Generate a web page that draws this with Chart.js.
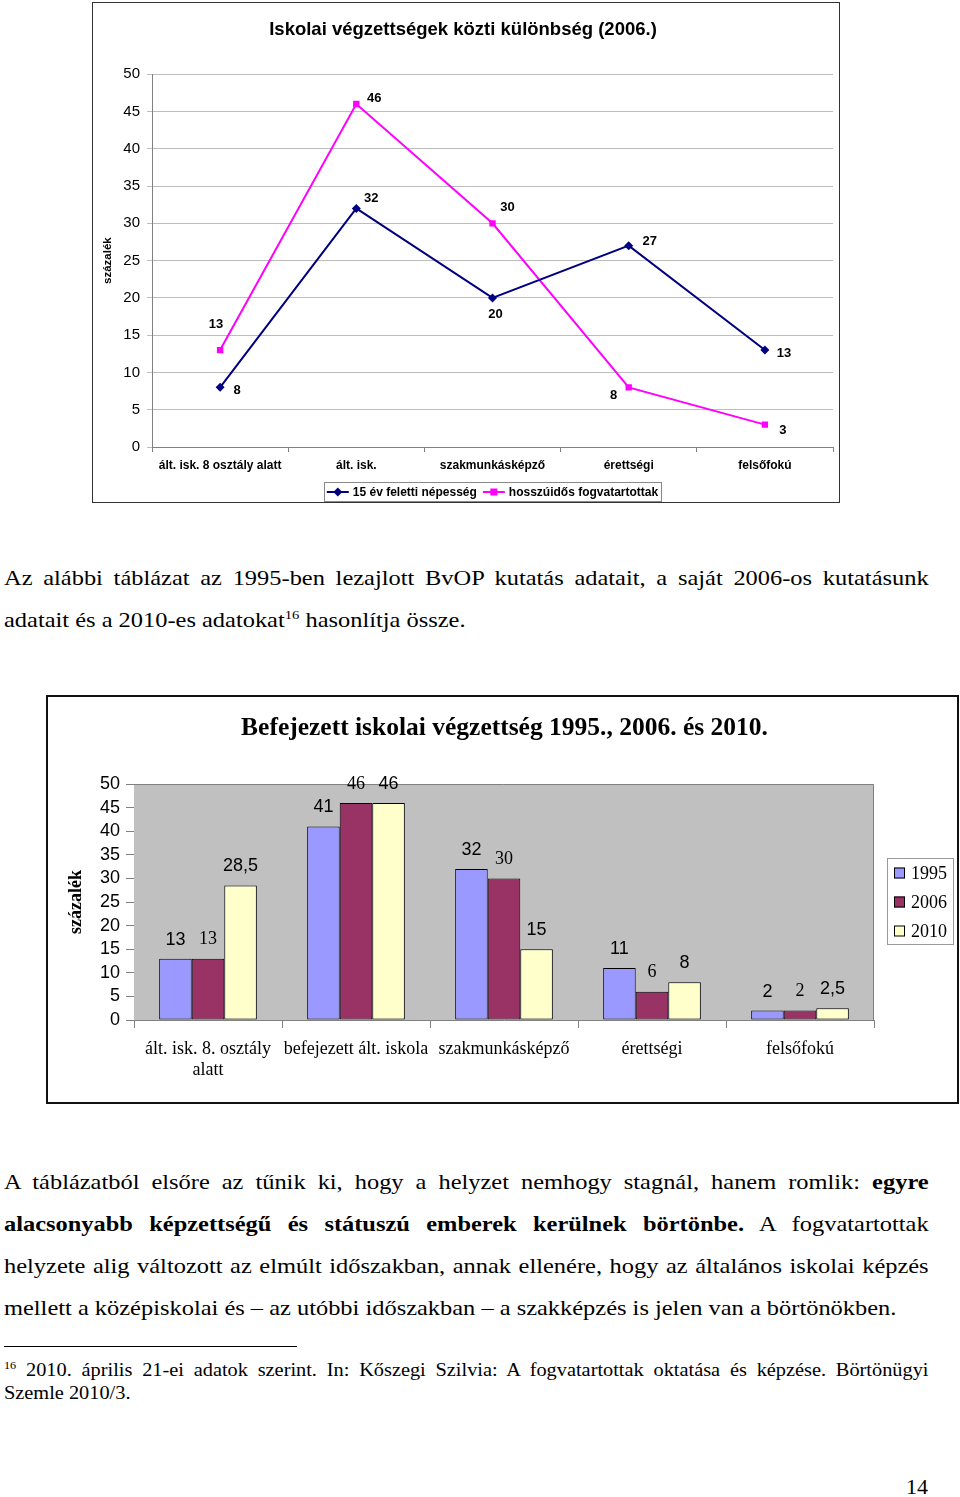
<!DOCTYPE html>
<html>
<head>
<meta charset="UTF-8">
<title></title>
<style type="text/css">
	body{ margin:0; background:#fff; width:960px; height:1497px; position:relative; overflow:hidden; }
	.box{ position:absolute; box-sizing:border-box; background:#fff; }
	.box canvas{ display:block; }
	.ln{ position:absolute; left:4px; width:833px; height:42px; line-height:42px; font-family:"Liberation Serif", serif; font-size:22px; color:#000; white-space:nowrap; transform:scaleX(1.11); transform-origin:0 0; }
	.j{ text-align:justify; text-align-last:justify; white-space:normal; }
	.fn{ font-size:19px; height:24px; line-height:24px; width:864px; transform:scaleX(1.07); }
	.pg{ transform:none; width:40px; }
	sup{ font-size:0.6em; line-height:0; vertical-align:0.6em; }
</style>
</head>
<body>
<div class="box" id="box1" style="left:92px;top:2px;width:748px;height:501px;border:1px solid #333;">
	<canvas id="lineChart" width="746" height="499"></canvas>
</div>

<div class="ln j" style="top:557px;">Az alábbi táblázat az 1995-ben lezajlott BvOP kutatás adatait, a saját 2006-os kutatásunk</div>
<div class="ln" style="top:599px;">adatait és a 2010-es adatokat<sup>16</sup> hasonlítja össze.</div>

<div class="box" id="box2" style="left:46px;top:695px;width:913px;height:409px;border:2px solid #111;">
	<canvas id="barChart" width="909" height="405"></canvas>
</div>

<div class="ln j" style="top:1161px;">A táblázatból elsőre az tűnik ki, hogy a helyzet nemhogy stagnál, hanem romlik: <b>egyre</b></div>
<div class="ln j" style="top:1203px;"><b>alacsonyabb képzettségű és státuszú emberek kerülnek börtönbe.</b> A fogvatartottak</div>
<div class="ln j" style="top:1245px;">helyzete alig változott az elmúlt időszakban, annak ellenére, hogy az általános iskolai képzés</div>
<div class="ln" style="top:1287px;">mellett a középiskolai és – az utóbbi időszakban – a szakképzés is jelen van a börtönökben.</div>

<div style="position:absolute;left:4px;top:1346px;width:293px;height:1px;background:#000;"></div>
<div class="ln j fn" style="top:1358px;"><sup>16</sup> 2010. április 21-ei adatok szerint. In: Kőszegi Szilvia: A fogvatartottak oktatása és képzése. Börtönügyi</div>
<div class="ln fn" style="top:1381px;">Szemle 2010/3.</div>

<div class="ln pg" style="top:1466px;left:906px;">14</div>

<script src="https://cdn.jsdelivr.net/npm/chart.js@4.4.0/dist/chart.umd.min.js"></script>
<script>
	// első ábra: vonaldiagram
	var lineTitle = 'Iskolai végzettségek közti különbség (2006.)';
	var lineCats = ['ált. isk. 8 osztály alatt', 'ált. isk.', 'szakmunkásképző', 'érettségi', 'felsőfokú'];
	var lineNames = ['15 év feletti népesség', 'hosszúidős fogvatartottak'];
	var nepesseg = [8, 32, 20, 27, 13];
	var fogvatartottak = [13, 46, 30, 8, 3];

	// második ábra: oszlopdiagram
	var barTitle = 'Befejezett iskolai végzettség 1995., 2006. és 2010.';
	var barCats = [['ált. isk. 8. osztály', 'alatt'], 'befejezett ált. iskola', 'szakmunkásképző', 'érettségi', 'felsőfokú'];
	var barYears = ['1995', '2006', '2010'];
	var ev1995 = [13, 41, 32, 11, 2];
	var ev2006 = [13, 46, 30, 6, 2];
	var ev2010 = [28.5, 46, 15, 8, 2.5];

	var SANS = '"Liberation Sans", Arial, sans-serif';
	var SERIF = '"Liberation Serif", "Times New Roman", serif';

	function fmt(v){
		return String(v).replace('.', ',');
	}

	// a vonaldiagram értékcímkéi (eltolás pontonként)
	var lineLabelShift = [
		[[17, 3], [15, -10], [3, 17], [21, -4], [19, 3]],
		[[-4, -26], [18, -6], [15, -16], [-15, 8], [18, 6]]
	];

	var lineLabels = {
		id: 'lineLabels',
		afterDatasetsDraw: function(chart){
			var ctx = chart.ctx;
			ctx.save();
			ctx.font = 'bold 13px ' + SANS;
			ctx.fillStyle = '#000';
			ctx.textAlign = 'center';
			ctx.textBaseline = 'middle';
			chart.data.datasets.forEach(function(ds, di){
				chart.getDatasetMeta(di).data.forEach(function(pt, i){
					var s = lineLabelShift[di][i];
					ctx.fillText(fmt(ds.data[i]), pt.x + s[0], pt.y + s[1]);
				});
			});
			ctx.restore();
		}
	};

	function drawMarker(ctx, style, x, y, color){
		ctx.fillStyle = color;
		ctx.beginPath();
		if(style === 'rectRot'){
			ctx.moveTo(x, y - 4.5); ctx.lineTo(x + 4.5, y); ctx.lineTo(x, y + 4.5); ctx.lineTo(x - 4.5, y);
		} else {
			ctx.rect(x - 3.5, y - 3.5, 7, 7);
		}
		ctx.closePath();
		ctx.fill();
	}

	var lineLegend = {
		id: 'lineLegend',
		afterDraw: function(chart){
			var ctx = chart.ctx, a = chart.chartArea;
			ctx.save();
			ctx.font = 'bold 12px ' + SANS;
			var items = chart.data.datasets.map(function(ds){
				return {ds: ds, w: 22 + 4 + ctx.measureText(ds.label).width};
			});
			var total = items.reduce(function(s, it){ return s + it.w; }, 0) + 6 * (items.length - 1) + 6;
			var x = (a.left + a.right) / 2 - total / 2;
			var y = a.bottom + 45;
			ctx.strokeStyle = '#888';
			ctx.lineWidth = 1;
			ctx.strokeRect(Math.round(x) + 0.5, y - 9.5, Math.round(total), 19);
			x += 3;
			ctx.textBaseline = 'middle';
			items.forEach(function(it){
				ctx.strokeStyle = it.ds.borderColor;
				ctx.lineWidth = 2;
				ctx.beginPath();
				ctx.moveTo(x, y); ctx.lineTo(x + 22, y);
				ctx.stroke();
				drawMarker(ctx, it.ds.pointStyle, x + 11, y, it.ds.borderColor);
				ctx.fillStyle = '#000';
				ctx.fillText(it.ds.label, x + 26, y + 0.5);
				x += it.w + 6;
			});
			ctx.restore();
		}
	};

	new Chart(document.getElementById('lineChart').getContext('2d'), {
		type: 'line',
		data: {
			labels: lineCats,
			datasets: [
				{
					label: lineNames[0],
					data: nepesseg,
					borderColor: '#000080',
					backgroundColor: '#000080',
					borderWidth: 2,
					pointStyle: 'rectRot',
					pointRadius: 4.5,
					pointBorderWidth: 0,
					tension: 0
				},
				{
					label: lineNames[1],
					data: fogvatartottak,
					borderColor: '#ff00ff',
					backgroundColor: '#ff00ff',
					borderWidth: 2,
					pointStyle: 'rect',
					pointRadius: 4.5,
					pointBorderWidth: 0,
					tension: 0
				}
			]
		},
		options: {
			responsive: false,
			animation: false,
			layout: { padding: { top: 0, left: 0, right: 6, bottom: 25 } },
			plugins: {
				legend: { display: false },
				tooltip: { enabled: false },
				title: {
					display: true,
					text: lineTitle,
					color: '#000',
					font: { family: SANS, size: 18.5, weight: 'bold' },
					padding: { top: 16, bottom: 33 }
				}
			},
			scales: {
				x: {
					offset: true,
					afterFit: function(s){ s.height = 30; },
					grid: { offset: true, drawOnChartArea: false, tickLength: 5, color: '#808080' },
					border: { color: '#808080' },
					ticks: { color: '#000', padding: 6, maxRotation: 0, autoSkip: false, font: { family: SANS, size: 12, weight: 'bold' } }
				},
				y: {
					min: 0, max: 50,
					afterFit: function(s){ s.width = 59; },
					grid: { color: '#bdbdbd', tickLength: 5 },
					border: { color: '#808080' },
					ticks: { stepSize: 5, autoSkip: false, color: '#000', padding: 7, font: { family: SANS, size: 15 } },
					title: { display: true, text: 'százalék', color: '#000', padding: { top: 8, bottom: 0 }, font: { family: SANS, size: 11.5, weight: 'bold' } }
				}
			}
		},
		plugins: [lineLabels, lineLegend]
	});

	// oszlopdiagram segédrajzolók
	var barLabelFonts = [SANS, SERIF, SANS];

	var plotBg = {
		id: 'plotBg',
		beforeDatasetsDraw: function(chart){
			var ctx = chart.ctx, a = chart.chartArea;
			ctx.save();
			ctx.fillStyle = '#c0c0c0';
			ctx.fillRect(a.left, a.top, a.right - a.left, a.bottom - a.top);
			ctx.strokeStyle = '#808080';
			ctx.lineWidth = 1;
			ctx.beginPath();
			ctx.moveTo(a.left, a.top + 0.5); ctx.lineTo(a.right - 0.5, a.top + 0.5); ctx.lineTo(a.right - 0.5, a.bottom);
			ctx.stroke();
			ctx.restore();
		}
	};

	var barTitleDraw = {
		id: 'barTitleDraw',
		afterDraw: function(chart){
			var ctx = chart.ctx;
			ctx.save();
			ctx.font = 'bold 25.5px ' + SERIF;
			ctx.fillStyle = '#000';
			ctx.textAlign = 'center';
			ctx.textBaseline = 'middle';
			ctx.fillText(barTitle, chart.width / 2 + 2, 31);
			ctx.restore();
		}
	};

	var barLabels = {
		id: 'barLabels',
		afterDatasetsDraw: function(chart){
			var ctx = chart.ctx;
			ctx.save();
			ctx.fillStyle = '#000';
			ctx.textAlign = 'center';
			ctx.textBaseline = 'middle';
			chart.data.datasets.forEach(function(ds, di){
				ctx.font = '18px ' + barLabelFonts[di];
				chart.getDatasetMeta(di).data.forEach(function(bar, i){
					ctx.fillText(fmt(ds.data[i]), bar.x, bar.y - 19);
				});
			});
			ctx.restore();
		}
	};

	var barLegend = {
		id: 'barLegend',
		afterDraw: function(chart){
			var ctx = chart.ctx, a = chart.chartArea;
			var cy = (a.top + a.bottom) / 2;
			var x0 = a.right + 13;
			ctx.save();
			ctx.strokeStyle = '#999';
			ctx.lineWidth = 1;
			ctx.strokeRect(x0 + 0.5, cy - 43.5, 66, 86);
			ctx.font = '18px ' + SERIF;
			ctx.textBaseline = 'middle';
			chart.data.datasets.forEach(function(ds, i){
				var y = cy + (i - 1) * 29;
				ctx.fillStyle = ds.backgroundColor;
				ctx.fillRect(x0 + 7, y - 5.5, 11, 11);
				ctx.strokeStyle = '#000';
				ctx.strokeRect(x0 + 7.5, y - 5, 10, 10);
				ctx.fillStyle = '#000';
				ctx.fillText(ds.label, x0 + 24, y + 1);
			});
			ctx.restore();
		}
	};

	var barColors = ['#9999ff', '#993366', '#ffffcc'];
	var barData = [ev1995, ev2006, ev2010];

	new Chart(document.getElementById('barChart').getContext('2d'), {
		type: 'bar',
		data: {
			labels: barCats,
			datasets: barYears.map(function(y, i){
				return {
					label: y,
					data: barData[i],
					backgroundColor: barColors[i],
					borderColor: '#000',
					borderWidth: 1,
					borderSkipped: false,
					categoryPercentage: 0.66,
					barPercentage: 1.0
				};
			})
		},
		options: {
			responsive: false,
			animation: false,
			layout: { padding: { top: 87, left: 0, right: 83, bottom: 12 } },
			plugins: {
				legend: { display: false },
				tooltip: { enabled: false },
				title: { display: false }
			},
			scales: {
				x: {
					afterFit: function(s){ s.height = 70; },
					grid: { offset: true, drawOnChartArea: false, tickLength: 8, color: '#808080' },
					border: { color: '#808080' },
					ticks: { color: '#000', padding: 10, maxRotation: 0, autoSkip: false, font: { family: SERIF, size: 18 } }
				},
				y: {
					min: 0, max: 50,
					afterFit: function(s){ s.width = 86; },
					grid: { drawOnChartArea: false, tickLength: 8, color: '#808080' },
					border: { color: '#808080' },
					ticks: { stepSize: 5, autoSkip: false, color: '#000', padding: 6, font: { family: SANS, size: 18 } },
					title: { display: true, text: 'százalék', color: '#000', padding: { top: 18, bottom: 0 }, font: { family: SERIF, size: 18, weight: 'bold' } }
				}
			}
		},
		plugins: [plotBg, barLabels, barLegend, barTitleDraw]
	});
</script>
</body>
</html>
